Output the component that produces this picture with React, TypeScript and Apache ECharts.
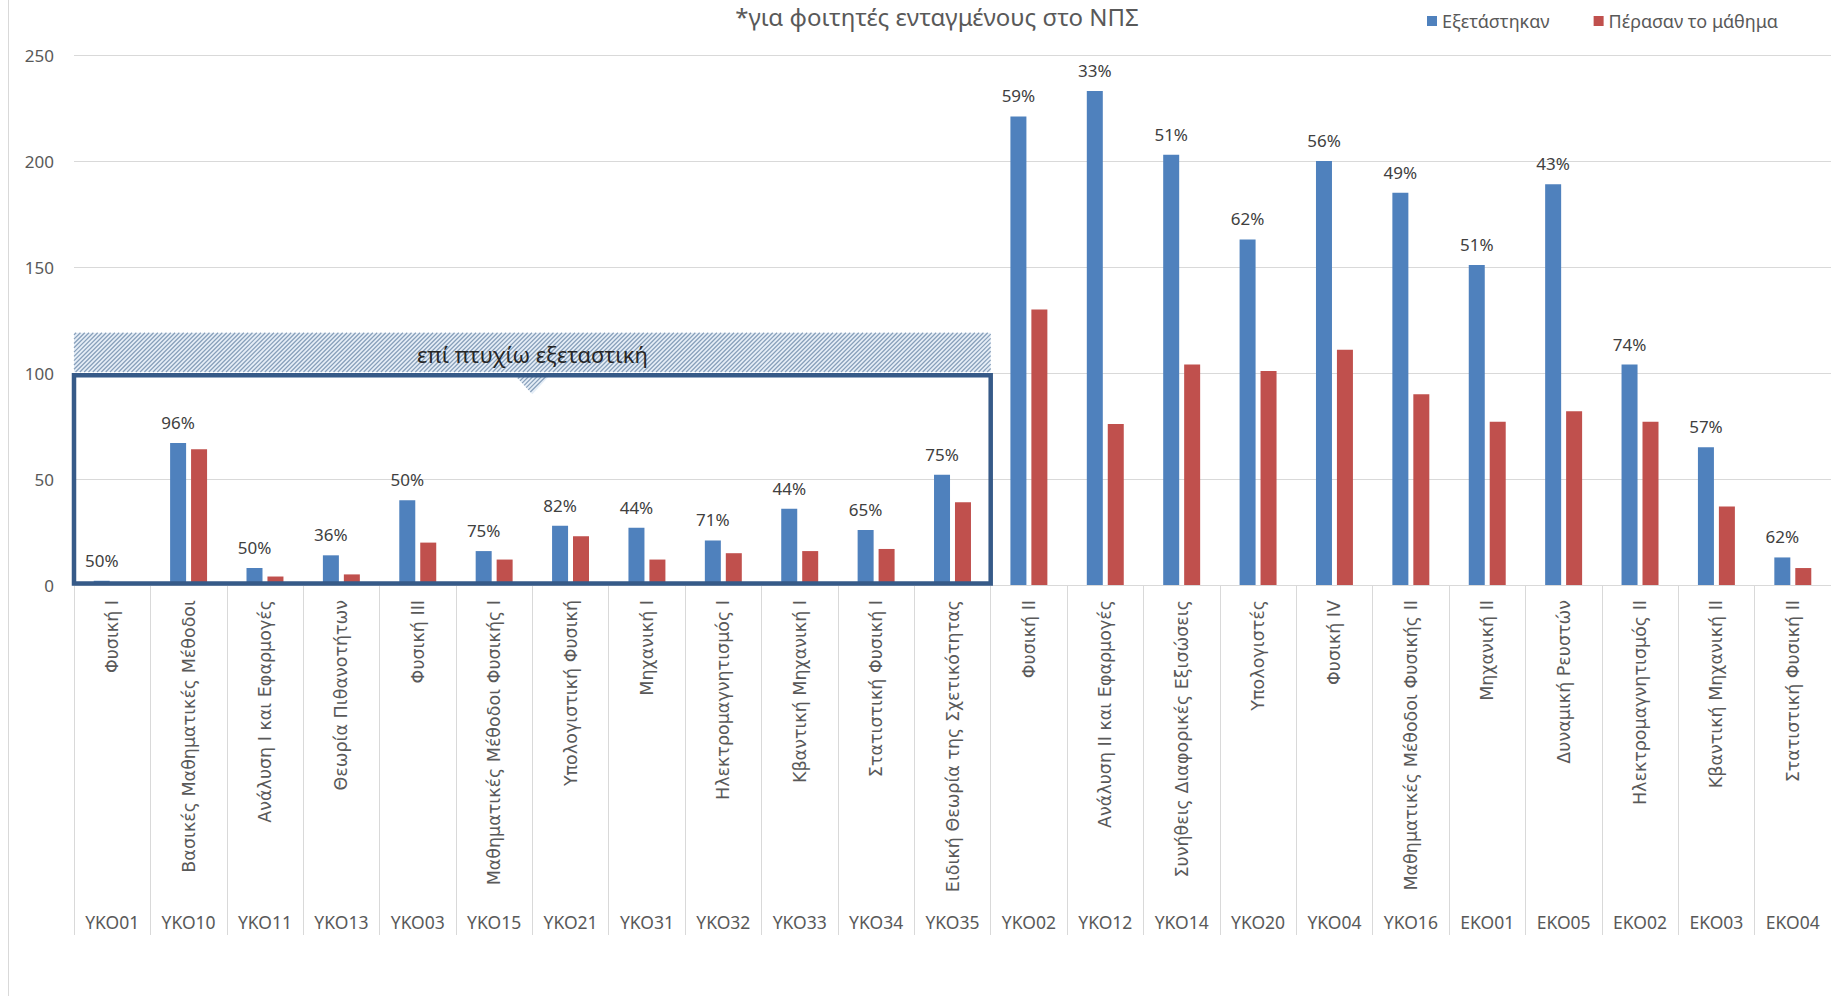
import React, { useEffect, useRef } from 'react';
import * as echarts from 'echarts';

const titleText = '*για φοιτητές ενταγμένους στο ΝΠΣ';
const seriesNames = ['Εξετάστηκαν', 'Πέρασαν το μάθημα'];
const courseNames = [
  'Φυσική I',
  'Βασικές Μαθηματικές Μέθοδοι',
  'Ανάλυση I και Εφαρμογές',
  'Θεωρία Πιθανοτήτων',
  'Φυσική III',
  'Μαθηματικές Μέθοδοι Φυσικής I',
  'Υπολογιστική Φυσική',
  'Μηχανική I',
  'Ηλεκτρομαγνητισμός I',
  'Κβαντική Μηχανική I',
  'Στατιστική Φυσική I',
  'Ειδική Θεωρία της Σχετικότητας',
  'Φυσική II',
  'Ανάλυση II και Εφαρμογές',
  'Συνήθεις Διαφορικές Εξισώσεις',
  'Υπολογιστές',
  'Φυσική IV',
  'Μαθηματικές Μέθοδοι Φυσικής II',
  'Μηχανική II',
  'Δυναμική Ρευστών',
  'Ηλεκτρομαγνητισμός II',
  'Κβαντική Μηχανική II',
  'Στατιστική Φυσική II',
];
const courseCodes = [
  'ΥΚΟ01', 'ΥΚΟ10', 'ΥΚΟ11', 'ΥΚΟ13', 'ΥΚΟ03', 'ΥΚΟ15', 'ΥΚΟ21', 'ΥΚΟ31',
  'ΥΚΟ32', 'ΥΚΟ33', 'ΥΚΟ34', 'ΥΚΟ35', 'ΥΚΟ02', 'ΥΚΟ12', 'ΥΚΟ14', 'ΥΚΟ20',
  'ΥΚΟ04', 'ΥΚΟ16', 'ΕΚΟ01', 'ΕΚΟ05', 'ΕΚΟ02', 'ΕΚΟ03', 'ΕΚΟ04',
];
const examined = [2, 67, 8, 14, 40, 16, 28, 27, 21, 36, 26, 52, 221, 233, 203, 163, 200, 185, 151, 189, 104, 65, 13];
const passed = [1, 64, 4, 5, 20, 12, 23, 12, 15, 16, 17, 39, 130, 76, 104, 101, 111, 90, 77, 82, 77, 37, 8];
const passRates = ['50%', '96%', '50%', '36%', '50%', '75%', '82%', '44%', '71%', '44%', '65%', '75%', '59%', '33%', '51%', '62%', '56%', '49%', '51%', '43%', '74%', '57%', '62%'];
const yMin = 0;
const yMax = 250;
const yInterval = 50;

const boxLabel = 'επί πτυχίω εξεταστική';
const boxFirstIndex = 0;
const boxLastIndex = 11;
const boxTopValue = 100;
const bannerTopValue = 119;

const BLUE = '#4F81BD';
const RED = '#C0504D';
const GRID = '#d9d9d9';
const LABEL = '#595959';
const FONT = "'Noto Sans', 'Open Sans', sans-serif";
const NAME_FONT = "'DejaVu Sans', 'Noto Sans', sans-serif";

type P = [number, number];

function clipDiag(k: number, poly: P[]): [P, P] | null {
  const pts: P[] = [];
  for (let i = 0; i < poly.length; i++) {
    const a = poly[i];
    const b = poly[(i + 1) % poly.length];
    const fa = a[0] + a[1] - k;
    const fb = b[0] + b[1] - k;
    if (fa === fb) continue;
    if (fa * fb <= 0) {
      const t = fa / (fa - fb);
      pts.push([a[0] + t * (b[0] - a[0]), a[1] + t * (b[1] - a[1])]);
    }
  }
  if (pts.length < 2) return null;
  pts.sort((p, q) => p[0] - q[0]);
  const p0 = pts[0];
  const p1 = pts[pts.length - 1];
  if (Math.abs(p1[0] - p0[0]) < 0.5) return null;
  return [p0, p1];
}

function hatch(poly: P[], step: number, z: number): any[] {
  let kmin = Infinity;
  let kmax = -Infinity;
  poly.forEach((p) => {
    kmin = Math.min(kmin, p[0] + p[1]);
    kmax = Math.max(kmax, p[0] + p[1]);
  });
  const out: any[] = [];
  for (let k = kmin + step / 2; k < kmax; k += step) {
    const seg = clipDiag(k, poly);
    if (!seg) continue;
    out.push({
      type: 'line',
      silent: true,
      z,
      shape: { x1: seg[0][0], y1: seg[0][1], x2: seg[1][0], y2: seg[1][1] },
      style: { stroke: '#879fba', lineWidth: 1.2 },
    });
  }
  return out;
}

export default function App() {
  const ref = useRef<HTMLDivElement>(null);

  useEffect(() => {
    if (!ref.current) return;
    const chart = echarts.init(ref.current, undefined, { renderer: 'svg' });
    const option: any = {
      animation: false,
      backgroundColor: '#ffffff',
      title: {
        text: titleText,
        left: 937,
        top: 16,
        padding: 0,
        textAlign: 'center',
        textVerticalAlign: 'middle',
        textStyle: { fontFamily: FONT, fontSize: 24, fontWeight: 'normal', color: LABEL },
      },
      legend: {
        data: seriesNames,
        left: 1427,
        top: 12,
        padding: 0,
        itemGap: 44,
        itemWidth: 10,
        itemHeight: 10,
        icon: 'rect',
        textStyle: { fontFamily: FONT, fontSize: 18, color: LABEL },
      },
      grid: { left: 74, right: -6, top: 55, bottom: 411, containLabel: false },
      xAxis: [
        {
          type: 'category',
          data: courseNames,
          position: 'bottom',
          axisLine: { show: true, lineStyle: { color: GRID, width: 1 } },
          axisTick: { show: true, length: 350, interval: 0, lineStyle: { color: GRID, width: 1 } },
          axisLabel: {
            interval: 0,
            rotate: 90,
            margin: 15,
            fontFamily: NAME_FONT,
            fontSize: 17.5,
            color: LABEL,
          },
        },
        {
          type: 'category',
          data: courseCodes,
          position: 'bottom',
          offset: 328,
          axisLine: { show: false },
          axisTick: { show: false },
          axisLabel: { interval: 0, margin: 0, fontFamily: FONT, fontSize: 17.5, color: LABEL },
        },
      ],
      yAxis: {
        type: 'value',
        min: yMin,
        max: yMax,
        interval: yInterval,
        axisLine: { show: false },
        axisTick: { show: false },
        splitLine: { lineStyle: { color: GRID, width: 1 } },
        axisLabel: { margin: 20, fontFamily: FONT, fontSize: 17, color: LABEL },
      },
      series: [
        {
          name: seriesNames[0],
          type: 'bar',
          data: examined,
          barWidth: 16,
          barGap: '31%',
          itemStyle: { color: BLUE },
          label: {
            show: true,
            position: 'top',
            distance: 12,
            fontFamily: FONT,
            fontSize: 17,
            color: '#404040',
            formatter: (p: any) => passRates[p.dataIndex],
          },
        },
        {
          name: seriesNames[1],
          type: 'bar',
          data: passed,
          barWidth: 16,
          itemStyle: { color: RED },
        },
      ],
    };
    chart.setOption(option);

    const c0 = chart.convertToPixel({ gridIndex: 0 }, [boxFirstIndex, 0]) as number[];
    const c1 = chart.convertToPixel({ gridIndex: 0 }, [boxFirstIndex + 1, boxTopValue]) as number[];
    const cL = chart.convertToPixel({ gridIndex: 0 }, [boxLastIndex, bannerTopValue]) as number[];
    const band = c1[0] - c0[0];
    const x0 = c0[0] - band / 2;
    const x1 = cL[0] + band / 2;
    const yZero = c0[1];
    const yTop = c1[1];
    const yBanner = cL[1];
    const cx = (x0 + x1) / 2;
    const bw = 4.5;
    const yBottom = yZero - 1.5;

    const bannerPoly: P[] = [
      [x0, yBanner],
      [x1, yBanner],
      [x1, yTop - 1],
      [x0, yTop - 1],
    ];
    const triTop = yTop + bw / 2;
    const triPoly: P[] = [
      [cx - 17.5, triTop],
      [cx + 17.5, triTop],
      [cx, triTop + 19],
    ];

    const graphics: any[] = [
      {
        type: 'line',
        silent: true,
        z: 50,
        shape: { x1: 8.5, y1: 0, x2: 8.5, y2: 996 },
        style: { stroke: GRID, lineWidth: 1 },
      },
      {
        type: 'rect',
        silent: true,
        z: 100,
        shape: { x: x0, y: yBanner, width: x1 - x0, height: yTop - 1 - yBanner },
        style: { fill: '#e6eef7' },
      },
      {
        type: 'polygon',
        silent: true,
        z: 100,
        shape: { points: triPoly },
        style: { fill: '#e6eef7' },
      },
      ...hatch(bannerPoly, 4.3, 101),
      ...hatch(triPoly, 4.3, 101),
      {
        type: 'rect',
        silent: true,
        z: 103,
        shape: { x: x0, y: yTop + bw / 2, width: x1 - x0, height: yBottom - yTop - bw / 2 },
        style: { fill: 'none', stroke: '#365a88', lineWidth: bw },
      },
      {
        type: 'text',
        silent: true,
        z: 104,
        x: cx,
        y: (yBanner + yTop) / 2 + 1,
        style: {
          text: boxLabel,
          align: 'center',
          verticalAlign: 'middle',
          fontFamily: FONT,
          fontSize: 22,
          fill: '#262626',
        },
      },
    ];
    chart.setOption({ graphic: graphics });

    return () => {
      chart.dispose();
    };
  }, []);

  return (
    <div
      ref={ref}
      style={{ position: 'fixed', left: 0, top: 0, width: 1831, height: 996, background: '#fff' }}
    />
  );
}
